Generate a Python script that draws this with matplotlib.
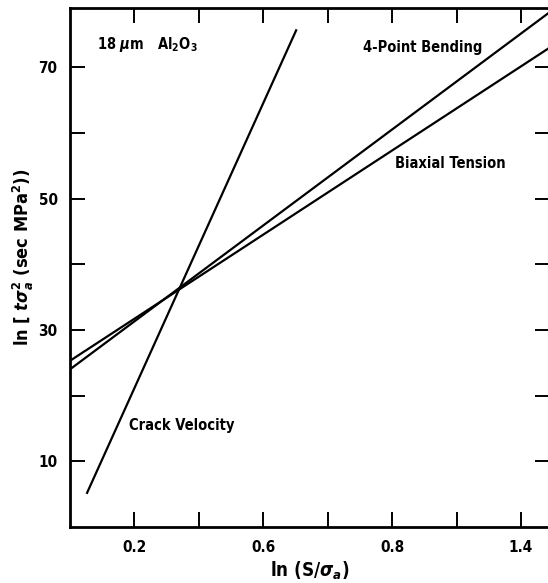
import numpy as np
import matplotlib
matplotlib.use("Agg")
import matplotlib.pyplot as plt

plt.rcParams['font.family'] = ['DejaVu Sans']
plt.rcParams['font.stretch'] = 'condensed'
plt.rcParams['font.weight'] = 'bold'
plt.rcParams['mathtext.fontset'] = 'dejavusans'

# lines (endpoints)
crack_x = [0.053, 0.702]
crack_y = [5.2, 75.6]
bend_x = [0.0, 1.49]
bend_y = [24.0, 78.4]
biax_x = [0.0, 1.49]
biax_y = [25.3, 73.0]

xticks = [0.2, 0.4, 0.6, 0.8, 1.0, 1.2, 1.4]
xlabels = ['0.2', '', '0.6', '', '0.8', '', '1.4']
yticks = [10, 20, 30, 40, 50, 60, 70]
ylabels = ['10', '', '30', '', '50', '', '70']

fig = plt.figure(figsize=(5.48, 5.83), dpi=100)
ax = fig.add_axes([70/548, 56/583, 480/548, 519/583])

ax.plot(crack_x, crack_y, color='black', lw=1.6)
ax.plot(bend_x, bend_y, color='black', lw=1.6)
ax.plot(biax_x, biax_y, color='black', lw=1.6)

ax.set_xlim(0, 1.49)
ax.set_ylim(0, 79.0)
ax.set_xticks(xticks)
ax.set_xticklabels(xlabels, fontsize=11, fontweight='bold')
ax.set_yticks(yticks)
ax.set_yticklabels(ylabels, fontsize=11, fontweight='bold')
ax.tick_params(direction='in', length=11, width=1.4, top=True, right=True, pad=9)
for s in ax.spines.values():
    s.set_linewidth(2)

ax.text(0.084, 73.5, r'18 $\mu$m   Al$_2$O$_3$', fontsize=10.5, fontweight='bold', va='center')
ax.text(1.096, 73.0, '4-Point Bending', fontsize=10.5, fontweight='bold', ha='center', va='center')
ax.text(1.18, 55.4, 'Biaxial Tension', fontsize=10.5, fontweight='bold', ha='center', va='center')
ax.text(0.348, 15.4, 'Crack Velocity', fontsize=10.5, fontweight='bold', ha='center', va='center')

ax.set_xlabel(r'ln (S/$\sigma_a$)', fontsize=13.5, fontweight='bold', labelpad=4)
ax.set_ylabel(r'ln [ $t\sigma_a^2$ (sec MPa$^2$))', fontsize=13, fontweight='bold')
ax.yaxis.set_label_coords(-0.07, 0.52)

fig.savefig('out.png', dpi=100)
